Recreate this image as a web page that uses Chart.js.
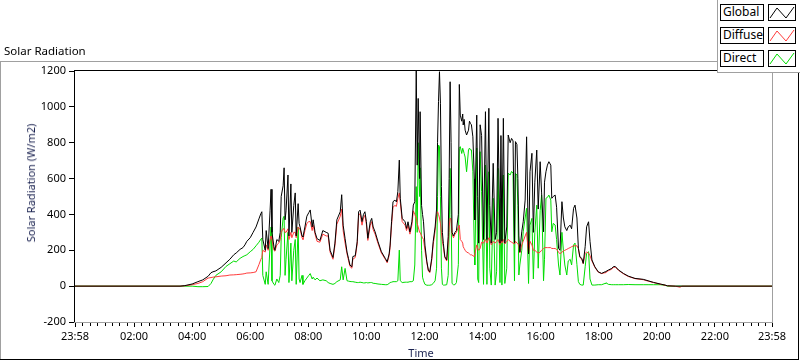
<!DOCTYPE html>
<html><head><meta charset="utf-8">
<script src="https://cdn.jsdelivr.net/npm/chart.js@4.4.1/dist/chart.umd.min.js"></script>
<style>
html,body{margin:0;padding:0;background:#fff;}
#wrap{position:relative;width:800px;height:361px;overflow:hidden;font-family:"Noto Sans",sans-serif;color:#000;}
#c{position:absolute;left:0;top:0;}
.t{position:absolute;white-space:nowrap;font-size:11px;line-height:14px;}
.lb{position:absolute;left:720px;width:44px;height:17px;box-sizing:border-box;border:1px solid #000;font-size:12px;line-height:14px;padding-left:2px;background:#fff;}
.ls{position:absolute;left:768px;width:28px;height:17px;box-sizing:border-box;border:1px solid #000;background:#fff;}
.ls svg{position:absolute;left:0;top:0;}
</style></head><body>
<div id="wrap">
<canvas id="c" width="800" height="361"></canvas>
<div class="t" style="left:4px;top:44px;font-size:11.5px;">Solar Radiation</div>
<div class="t" style="left:31px;top:183px;color:#1a2250;transform:translate(-50%,-50%) rotate(-90deg);">Solar Radiation (W/m2)</div>
<div class="t" style="left:421px;top:346px;color:#1a2250;transform:translateX(-50%);">Time</div>
<div style="position:absolute;left:717px;top:0;width:83px;height:73px;box-sizing:border-box;border-left:1px solid #a0a0a0;border-bottom:1px solid #a0a0a0;background:#fff;"></div>
<div class="lb" style="top:4px">Global</div>
<div class="ls" style="top:4px"><svg width="26" height="15"><polyline points="1,13 8,3 17,13 25,2" fill="none" stroke="#000" stroke-width="1"/></svg></div>
<div class="lb" style="top:27px">Diffuse</div>
<div class="ls" style="top:27px"><svg width="26" height="15"><polyline points="1,13 8,3 17,13 25,2" fill="none" stroke="#ff3c3c" stroke-width="1"/></svg></div>
<div class="lb" style="top:50px">Direct</div>
<div class="ls" style="top:50px"><svg width="26" height="15"><polyline points="1,13 8,3 17,13 25,2" fill="none" stroke="#00dd00" stroke-width="1"/></svg></div>
</div>
<script>
// time of day in minutes after midnight (23:58 of the previous day = -2)
const times = [-2,215,225,240,252,262,273,279,283,289,
300,310,318,326,331,339,345,349,353,360,
366,372,378,382,384,386,391,393,397,401,
403,405,409,411,415,419,422,424,428,430,
432,434,438,440,444,446,450,453,455,459,
461,463,467,469,473,477,481,484,488,490,
494,498,504,510,517,521,525,531,535,539,
546,549,552,556,560,563,566,570,572,577,
581,584,587,591,594,597,600,603,608,611,
614,618,624,631,639,643,647,649,652,655,
659,662,665,668,670,674,680,683,686,690,
694,697,700,703,705,707,710,711,714,716,
718,721,725,728,731,735,738,742,745,747,
749,751,753,755,757,759,762,766,769,771,
773,775,777,780,783,786,790,792,794,797,
799,800,802,804,807,811,813,815,817,820,
823,824,828,830,832,835,838,842,846,849,
853,855,858,862,866,869,872,876,878,880,
883,886,890,893,897,900,903,906,908,911,
913,915,917,921,924,928,931,935,938,942,
945,948,952,955,959,962,966,968,971,974,
977,981,983,986,990,993,997,1000,1004,1007,
1010,1014,1017,1021,1024,1028,1031,1035,1038,1041,
1045,1048,1052,1055,1059,1062,1066,1072,1079,1086,
1093,1095,1100,1107,1110,1114,1121,1131,1141,1155,
1172,1182,1193,1207,1217,1222,1238,1248,1252,1438];

const globalVals = [0,0,3,12,25,35,55,75,80,85,
105,130,150,175,185,205,215,230,250,270,
300,330,375,405,415,260,200,310,210,420,
540,300,220,200,260,250,300,500,560,660,
370,420,620,280,570,300,450,520,280,460,
350,330,280,275,330,390,410,425,330,370,
300,265,255,310,300,295,200,160,240,370,
415,510,340,265,190,155,118,108,165,170,
248,415,424,360,400,415,360,267,359,378,
330,303,248,192,155,136,180,229,359,471,
480,470,527,703,490,378,359,322,359,303,
359,452,471,1200,675,1047,600,973,450,400,
359,229,136,90,80,155,248,330,430,800,
1030,1196,1020,555,300,239,164,146,276,600,
1140,800,300,280,300,310,400,1125,954,920,
960,899,930,870,843,870,920,908,900,833,
600,369,954,500,240,900,840,260,973,260,
992,450,240,685,260,300,936,240,840,250,
936,240,330,843,800,824,810,240,806,790,
600,280,190,303,359,480,833,180,638,741,
300,580,759,430,694,520,303,580,638,675,
694,675,490,500,508,440,211,200,471,380,
331,310,331,340,320,434,452,380,211,164,
155,127,220,331,359,250,146,108,80,71,
80,82,90,99,108,110,90,71,56,43,
38,30,21,12,6,2,0,0,0,0];

const diffuseVals = [0,0,2,8,15,25,45,48,50,52,
56,58,62,63,64,66,68,70,73,74,
76,80,120,150,160,200,190,230,200,260,
280,260,200,195,230,240,260,300,320,320,
300,300,320,260,300,270,300,300,270,330,
320,320,270,260,310,350,360,360,310,340,
290,250,245,290,280,280,190,150,225,345,
390,430,310,240,180,145,110,100,150,160,
235,395,405,340,380,395,345,255,340,360,
315,290,238,185,150,130,170,215,340,440,
450,445,490,520,470,360,340,310,340,290,
340,420,400,380,350,330,300,300,280,270,
260,200,130,85,75,145,230,310,400,415,
400,380,350,300,250,220,160,140,240,330,
380,370,290,270,290,300,330,340,260,250,
240,220,210,200,190,185,180,175,175,170,
165,165,230,210,200,210,245,240,260,240,
270,260,230,250,240,250,260,230,260,240,
260,235,250,260,250,245,240,235,250,240,
235,230,185,230,250,280,300,180,250,230,
200,200,190,185,190,200,210,215,215,215,
215,215,210,210,210,205,190,180,190,195,
200,205,210,215,220,225,225,225,210,160,
150,125,183,190,185,170,140,105,78,70,
75,78,86,95,105,106,88,69,54,42,
36,28,20,11,5,2,0,-6,0,0];

const directVals = [0,0,0,0,-3,-3,-2,15,35,60,
80,110,125,140,135,155,165,170,175,192,
205,225,245,262,268,60,10,80,10,230,
330,30,10,5,40,20,60,270,380,390,
60,150,300,20,240,30,200,260,10,330,
40,20,60,10,30,45,60,70,40,50,
35,45,30,35,30,20,15,10,15,25,
35,108,35,99,30,28,26,25,25,22,
20,20,22,20,18,18,20,18,20,20,
16,15,12,10,8,8,15,20,22,25,
25,25,30,201,30,20,22,22,22,25,
25,30,118,555,300,800,500,660,200,50,
30,10,5,5,5,8,15,30,100,500,
787,780,500,100,10,6,6,8,60,300,
657,400,15,8,8,20,120,769,778,740,
769,760,740,720,638,760,770,760,760,638,
200,118,770,40,20,750,527,10,675,10,
638,100,6,490,6,80,657,20,490,6,
620,15,100,630,620,640,630,30,629,620,
450,62,118,200,303,380,434,15,340,378,
40,300,452,100,420,508,30,150,490,495,
508,480,303,350,341,260,118,62,300,200,
118,62,140,150,118,229,240,120,25,10,
6,6,108,183,192,40,6,6,8,8,
15,19,10,8,8,8,8,8,9,8,
8,8,8,8,5,0,0,0,0,0];

const seriesNames = ['Global','Diffuse','Direct'];
const seriesColors = ['#000000','#ff3c3c','#00dd00'];
const majorTicks = [-2,120,240,360,480,600,720,840,960,1080,1200,1320,1438];
const majorLabels = ['23:58','02:00','04:00','06:00','08:00','10:00','12:00','14:00','16:00','18:00','20:00','22:00','23:58'];
const yTicks = [-200,0,200,400,600,800,1000,1200];

const pts = vals => times.map((t,i)=>({x:t,y:vals[i]}));

const framePlugin = {
  id:'frame',
  beforeDraw(chart){
    const ctx = chart.ctx;
    ctx.save();
    ctx.fillStyle='#fff'; ctx.fillRect(0,0,800,361);
    ctx.fillStyle='#a0a0a0';
    ctx.fillRect(0,61,717,1);
    ctx.fillRect(0,61,1,299);
    ctx.fillStyle='#000';
    ctx.fillRect(0,359,799,1);
    ctx.fillRect(798,72,1,288);
    ctx.restore();
  },
  afterDraw(chart){
    const {ctx, chartArea:a, scales:{x}} = chart;
    ctx.save();
    ctx.fillStyle='#000';
    ctx.fillRect(a.left-1, a.top-1, a.right-a.left+1, 1);
    ctx.fillRect(a.left-1, a.top-1, 1, a.bottom-a.top+1);
    ctx.fillStyle='#a0a0a0';
    ctx.fillRect(a.left-1, a.bottom, a.right-a.left+2, 1);
    ctx.fillRect(a.right, a.top-1, 1, a.bottom-a.top+1);
    ctx.fillStyle='#000';
    for (let i=0;i<majorTicks.length-1;i++){
      const s=(majorTicks[i+1]-majorTicks[i])/8;
      for (let k=1;k<8;k++){
        const px=Math.round(x.getPixelForValue(majorTicks[i]+k*s));
        ctx.fillRect(px, a.bottom+1, 1, 3);
      }
    }
    ctx.restore();
  }
};

Chart.defaults.font.family = "'Noto Sans', sans-serif";
Chart.defaults.font.size = 11;
Chart.defaults.color = '#000';

new Chart(document.getElementById('c'), {
  type:'line',
  data:{
    datasets:[globalVals, diffuseVals, directVals].map((v,i)=>({
      label:seriesNames[i], data:pts(v), borderColor:seriesColors[i], backgroundColor:seriesColors[i],
      borderWidth:1, pointRadius:0, tension:0, fill:false
    }))
  },
  options:{
    responsive:false, animation:false, devicePixelRatio:1,
    parsing:false, normalized:true,
    layout:{padding:{left:0,right:28,top:71,bottom:0}},
    plugins:{legend:{display:false}, tooltip:{enabled:false}},
    scales:{
      x:{type:'linear', min:-2, max:1438,
        afterBuildTicks:s=>{s.ticks = majorTicks.map(v=>({value:v}));},
        afterFit:s=>{s.height=39;},
        ticks:{autoSkip:false, maxRotation:0, padding:3, color:'#000',
          callback:(v)=>{const i=majorTicks.indexOf(v); return i>=0?majorLabels[i]:'';}},
        grid:{drawOnChartArea:false, drawTicks:true, tickLength:5, color:'#000'},
        border:{display:false}
      },
      y:{type:'linear', min:-200, max:1200,
        afterBuildTicks:s=>{s.ticks = yTicks.map(v=>({value:v}));},
        afterFit:s=>{s.width=75;},
        ticks:{padding:3, color:'#000', callback:(v)=>String(v)},
        grid:{drawOnChartArea:false, drawTicks:true, tickLength:6, color:'#000'},
        border:{display:false}
      }
    }
  },
  plugins:[framePlugin]
});
</script>
</body></html>
